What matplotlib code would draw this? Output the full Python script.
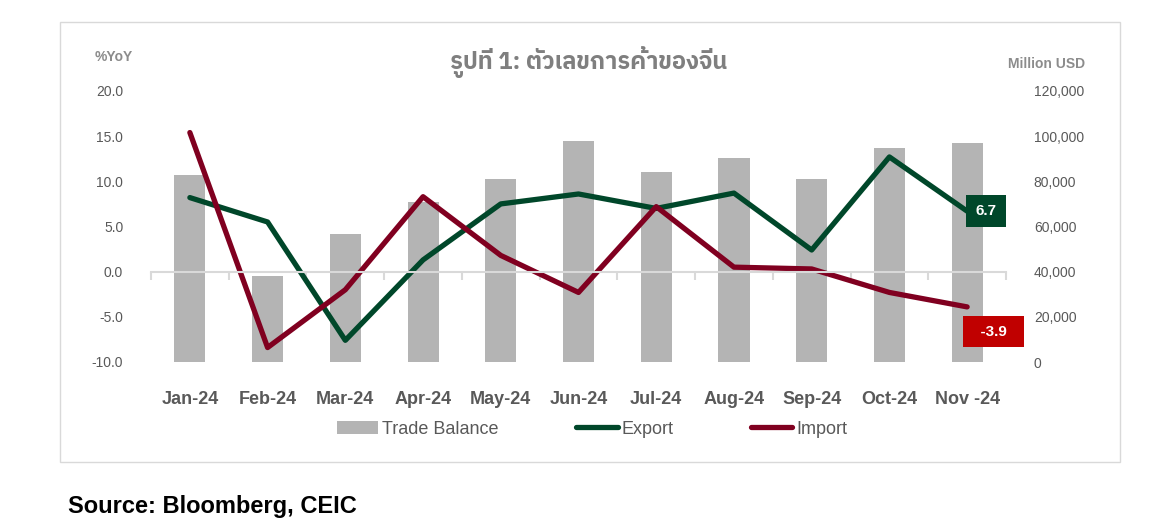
import numpy as np
import matplotlib
matplotlib.use('Agg')
import matplotlib.pyplot as plt

months = ['Jan-24', 'Feb-24', 'Mar-24', 'Apr-24', 'May-24', 'Jun-24',
          'Jul-24', 'Aug-24', 'Sep-24', 'Oct-24', 'Nov -24']
trade_balance = [83000, 38000, 56700, 70800, 81000, 97800, 84100, 90300, 81000, 94800, 97000]
export = [8.2, 5.5, -7.6, 1.3, 7.5, 8.6, 7.0, 8.7, 2.4, 12.7, 6.7]
imports = [15.4, -8.4, -2.0, 8.3, 1.8, -2.3, 7.2, 0.5, 0.3, -2.3, -3.9]

plt.rcParams['font.family'] = ['Liberation Sans', 'IBM Plex Sans Thai', 'DejaVu Sans']

gray_txt = '#595959'
green = '#00472a'
maroon = '#800020'
bar_col = '#b4b4b4'

fig = plt.figure(figsize=(11.65, 5.28), dpi=100)
fig.patches.append(plt.Rectangle((60/1165, 1-462/528), 1060/1165, 440/528,
                                 transform=fig.transFigure, fill=False,
                                 edgecolor='#d9d9d9', linewidth=1))

ax = fig.add_axes([151/1165, 1-362/528, 855/1165, 271/528])
ax2 = ax.twinx()
x = np.arange(len(months))

ax2.bar(x, trade_balance, width=0.4, color=bar_col, label='Trade Balance')
ax2.set_ylim(0, 120000)
ax2.set_yticks(np.arange(0, 120001, 20000))
ax2.set_yticklabels(['{:,.0f}'.format(v) for v in np.arange(0, 120001, 20000)])

ax.plot(x, export, color=green, linewidth=3.8, solid_capstyle='round', label='Export')
ax.plot(x, imports, color=maroon, linewidth=3.8, solid_capstyle='round', label='Import')
ax.set_ylim(-10, 20)
ax.set_yticks(np.arange(-10, 20.1, 5))
ax.set_yticklabels(['{:.1f}'.format(v) for v in np.arange(-10, 20.1, 5)])
ax.set_xlim(-0.5, len(months) - 0.5)

ax.set_zorder(ax2.get_zorder() + 1)
ax.patch.set_visible(False)

for a in (ax, ax2):
    for s in a.spines.values():
        s.set_visible(False)
    a.tick_params(axis='y', length=0, labelsize=10, labelcolor=gray_txt, pad=20)

ax.spines['bottom'].set_visible(True)
ax.spines['bottom'].set_position(('data', 0))
ax.spines['bottom'].set_color('#d9d9d9')
ax.spines['bottom'].set_linewidth(1.5)
ax.set_xticks(x)
ax.set_xticklabels(months, fontweight='bold')
ax.set_xticks(np.arange(-0.5, len(months)), minor=True)
ax.tick_params(axis='x', which='major', length=0, labelsize=13, labelcolor=gray_txt, pad=86)
ax.tick_params(axis='x', which='minor', length=6, width=1.5, color='#d9d9d9', direction='out')

# value labels on last points
ax.annotate('{:.1f}'.format(export[-1]), (x[-1], export[-1]), xytext=(13.5, 0),
            textcoords='offset points', ha='center', va='center', color='white',
            fontsize=11, fontweight='bold',
            bbox=dict(boxstyle='square,pad=0.6', facecolor=green, edgecolor='none'))
ax.annotate('  {:.1f}  '.format(imports[-1]), (x[-1], imports[-1]), xytext=(19, -18),
            textcoords='offset points', ha='center', va='center', color='white',
            fontsize=11, fontweight='bold',
            bbox=dict(boxstyle='square,pad=0.55', facecolor='#c00000', edgecolor='none'))

fig.text(0.505, 1-62/528, 'รูปที่ 1: ตัวเลขการค้าของจีน', ha='center', va='center',
         fontsize=17, fontweight='bold', color='#7f7f7f',
         family=['IBM Plex Sans Thai', 'Liberation Sans'])
fig.text(133/1165, 1-57/528, '%YoY', ha='right', va='center', fontsize=10,
         fontweight='bold', color='#8c8c8c')
fig.text(1085/1165, 1-64/528, 'Million USD', ha='right', va='center', fontsize=10,
         fontweight='bold', color='#8c8c8c')

h1, l1 = ax2.get_legend_handles_labels()
h2, l2 = ax.get_legend_handles_labels()
fig.legend(h1 + h2, l1 + l2, loc='center', bbox_to_anchor=(592/1165, 1-429/528),
           ncol=3, frameon=False, fontsize=13, labelcolor=gray_txt,
           handlelength=2.3, columnspacing=4.3, handletextpad=0.2)

fig.text(68/1165, 1-507/528, 'Source: Bloomberg, CEIC', ha='left', va='center',
         fontsize=17, fontweight='bold', color='black')

plt.savefig('out.png', dpi=100)
